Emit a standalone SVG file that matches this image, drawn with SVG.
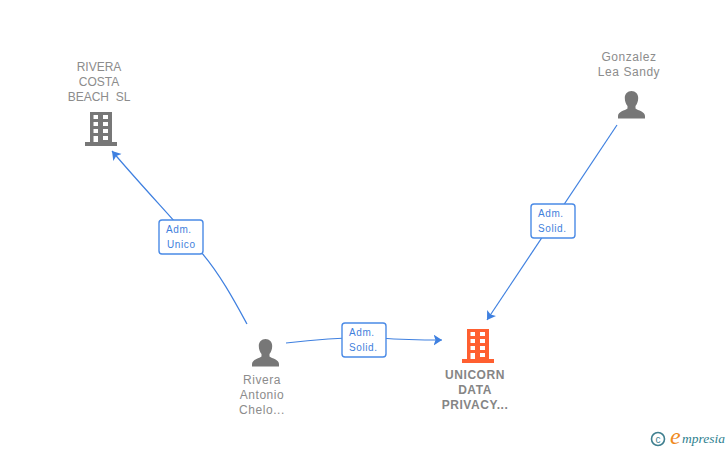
<svg xmlns="http://www.w3.org/2000/svg" width="728" height="450" viewBox="0 0 728 450">
<style>
.lbl{font-family:"Liberation Sans",Arial,sans-serif;font-size:12px;fill:#8c8c8c;text-anchor:middle;letter-spacing:.55px}
.caps{letter-spacing:0}
.bold{font-weight:700;fill:#858585;letter-spacing:.55px}
.edge{fill:none;stroke:#3f80e0;stroke-width:1.2}
.box{fill:#fff;stroke:#4a8ae6;stroke-width:1.4}
.et{font-family:"Liberation Sans",Arial,sans-serif;font-size:10px;fill:#3f7fdc;letter-spacing:.6px}
</style>
<defs>
<marker id="arr" markerWidth="12" markerHeight="12" refX="8.500" refY="5.500" orient="auto" markerUnits="userSpaceOnUse"><path d="M0 0L8.500 5.500L0 11L2 5.500Z" fill="#3f80e0"/></marker>
<path id="bld" fill-rule="evenodd" d="M5 0H27V30H32V34H0V30H5ZM8.500 3V7H13V3ZM18 3V7H23V3ZM8.500 10V14H13V10ZM18 10V14H23V10ZM8.500 17V21H13V17ZM18 17V21H23V17ZM8.500 24V30H13V24ZM18 24V28H23V24Z"/>
<path id="per" d="M13.500 0C17.500 0 20.200 3 20.200 7C20.200 10.500 19 13 17.500 15V17.500C20 19.500 27 20.500 27 25V27.500H0V25C0 20.500 7 19.500 9.500 17.500V15C8 13 6.800 10.500 6.800 7C6.800 3 9.500 0 13.500 0Z"/>
</defs>
<g id="connectors">
<path class="edge" marker-end="url(#arr)" d="M247 324C235 302 220 274 201 252C180 226 145 190 112 151"/>
<path class="edge" marker-end="url(#arr)" d="M286 343C320 339 350 337 380 338C400 339.500 420 340 442 340"/>
<path class="edge" marker-end="url(#arr)" d="M617 125L487 320"/>
</g>
<g id="edge-label-1"><rect class="box" x="159" y="220" width="44" height="34" rx="3"/><text class="et" x="166" y="233">Adm.</text><text class="et" x="167" y="248">Unico</text></g>
<g id="edge-label-2"><rect class="box" x="342" y="323" width="44" height="34" rx="3"/><text class="et" x="349" y="336">Adm.</text><text class="et" x="349" y="351">Solid.</text></g>
<g id="edge-label-3"><rect class="box" x="531" y="204" width="44" height="34" rx="3"/><text class="et" x="538" y="217">Adm.</text><text class="et" x="538" y="232">Solid.</text></g>
<g id="node-rivera-costa"><text class="lbl caps" x="99" y="71">RIVERA</text><text class="lbl caps" x="99" y="86">COSTA</text><text class="lbl caps" x="99" y="101" xml:space="preserve">BEACH  SL</text><use href="#bld" x="85" y="112" fill="#777777"/></g>
<g id="node-gonzalez"><text class="lbl" x="629" y="61">Gonzalez</text><text class="lbl" x="629" y="76">Lea Sandy</text><use href="#per" x="618" y="91" fill="#777777"/></g>
<g id="node-rivera-antonio"><text class="lbl" x="262" y="384">Rivera</text><text class="lbl" x="262" y="399">Antonio</text><text class="lbl" x="262" y="414">Chelo...</text><use href="#per" x="252" y="339" fill="#777777"/></g>
<g id="node-unicorn"><use href="#bld" x="462" y="329" fill="#ff5f30"/><text class="lbl bold" x="475" y="379">UNICORN</text><text class="lbl bold" x="475" y="394">DATA</text><text class="lbl bold" x="475" y="409">PRIVACY...</text></g>
<g id="logo"><circle cx="658" cy="439" r="6.500" fill="none" stroke="#3f7f8f" stroke-width="1.600"/><text x="658" y="442.500" text-anchor="middle" font-family="Liberation Sans,sans-serif" font-size="10" fill="#3f7f8f">c</text><text x="670" y="444" font-family="Liberation Serif,serif" font-style="italic" font-size="24" fill="#f08a1d">e</text><text x="682" y="443" font-family="Liberation Serif,serif" font-style="italic" font-size="13.500" fill="#2f7f8f">mpresia</text></g>
</svg>
